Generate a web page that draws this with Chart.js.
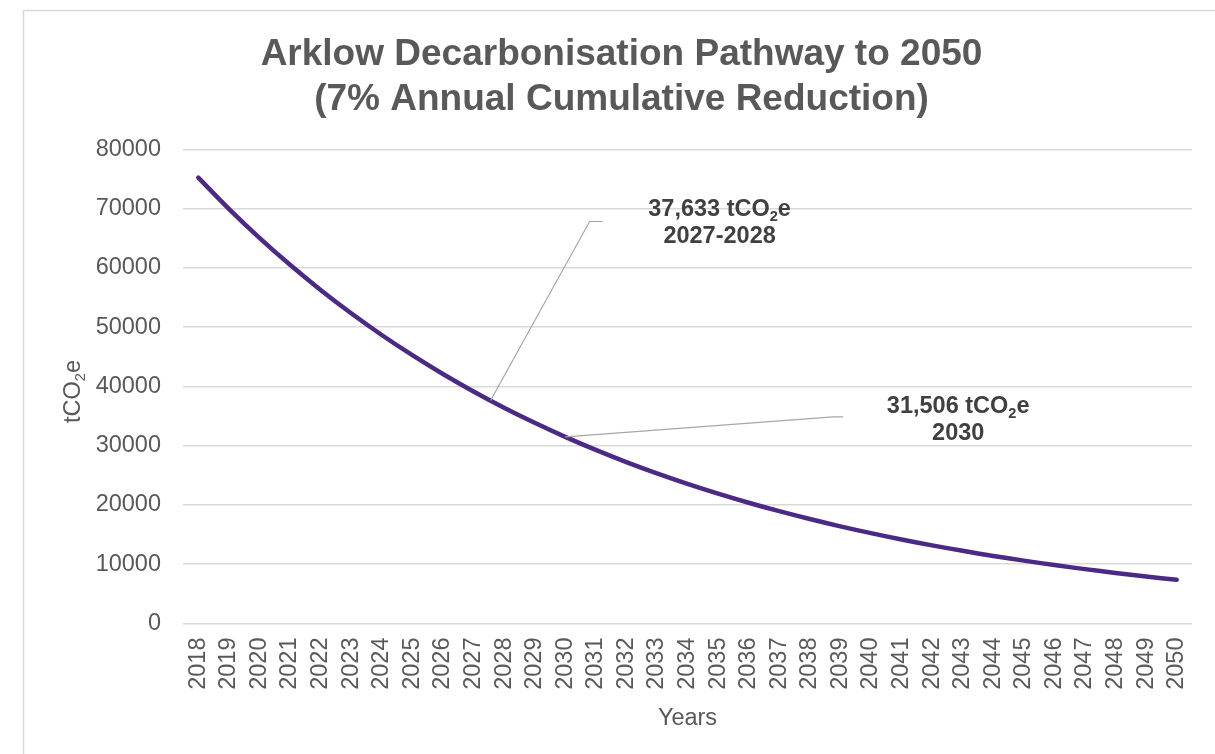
<!DOCTYPE html>
<html>
<head>
<meta charset="utf-8">
<title>Arklow Decarbonisation Pathway to 2050</title>
<script src="https://cdn.jsdelivr.net/npm/chart.js@4.4.1/dist/chart.umd.min.js"></script>
<style>
  html, body { margin: 0; padding: 0; background: #ffffff; }
  #wrap { width: 1215px; height: 754px; }
</style>
</head>
<body>
<div id="wrap"><canvas id="chart" width="1215" height="754"></canvas></div>
<script>
// Emissions pathway, 7% cumulative reduction each year (tCO2e)
const years = ['2018', '2019', '2020', '2021', '2022', '2023', '2024', '2025', '2026', '2027', '2028',
  '2029', '2030', '2031', '2032', '2033', '2034', '2035', '2036', '2037', '2038', '2039', '2040',
  '2041', '2042', '2043', '2044', '2045', '2046', '2047', '2048', '2049', '2050'];
const emissions = [75263, 69995, 65095, 60538, 56301, 52360, 48695, 45286, 42116, 39168, 36426,
  33876, 31506, 29301, 27250, 25342, 23568, 21918, 20384, 18957, 17630, 16396, 15248,
  14181, 13188, 12265, 11407, 10608, 9865, 9175, 8533, 7935, 7380];
const yTicks = [0, 10000, 20000, 30000, 40000, 50000, 60000, 70000, 80000];

// Callouts: stated value and the period it refers to
const calloutValues = [37633, 31506];
const calloutPeriods = ['2027-2028', '2030'];

const titleLines = ['Arklow Decarbonisation Pathway to 2050', '(7% Annual Cumulative Reduction)'];
const xTitle = 'Years';

const FONT = '"Liberation Sans", Arial, Helvetica, sans-serif';
const GREY = '#595959';

// Leader-line and text placement for each callout, relative to its anchor on the curve
const calloutLayout = [
  { elbow: [99, -179], end: [112, -179], text: [229, -185], gap: 27.6 },
  { elbow: [268, -20], end: [278, -20], text: [393, -24], gap: 27 }
];

// Fractional category index where the series passes through a value
function indexForValue(v) {
  for (let i = 0; i < emissions.length - 1; i++) {
    const a = emissions[i], b = emissions[i + 1];
    if (a >= v && v >= b) return i + (a - v) / (a - b);
  }
  return 0;
}

// Draws text made of normal and subscript runs, centred on cx
function drawRuns(ctx, runs, cx, baseline, size, weight, color) {
  const subSize = size * 0.62;
  const fontFor = r => `${weight} ${r.sub ? subSize : size}px ${FONT}`;
  let total = 0;
  runs.forEach(r => { ctx.font = fontFor(r); total += ctx.measureText(r.t).width; });
  let x = cx - total / 2;
  ctx.fillStyle = color;
  ctx.textAlign = 'left';
  ctx.textBaseline = 'alphabetic';
  runs.forEach(r => {
    ctx.font = fontFor(r);
    ctx.fillText(r.t, x, baseline + (r.sub ? size * 0.22 : 0));
    x += ctx.measureText(r.t).width;
  });
}

const decorations = {
  id: 'decorations',
  beforeDraw(chart) {
    const ctx = chart.ctx;
    ctx.save();
    ctx.fillStyle = '#ffffff';
    ctx.fillRect(0, 0, chart.width, chart.height);
    ctx.strokeStyle = '#d9d9d9';
    ctx.lineWidth = 1.5;
    ctx.strokeRect(23.5, 10.5, chart.width + 40, chart.height + 40);
    ctx.restore();
  },
  afterDatasetsDraw(chart) {
    const ctx = chart.ctx;
    const xs = chart.scales.x, ys = chart.scales.y;
    const area = chart.chartArea;
    ctx.save();

    // Title
    ctx.fillStyle = GREY;
    ctx.textAlign = 'center';
    ctx.textBaseline = 'alphabetic';
    ctx.font = `bold 37px ${FONT}`;
    ctx.fillText(titleLines[0], 621.5, 65);
    ctx.fillText(titleLines[1], 621.5, 110);

    // Axis titles
    ctx.font = `23.5px ${FONT}`;
    ctx.fillText(xTitle, (area.left + area.right) / 2, 725);
    ctx.save();
    ctx.translate(79.5, (area.top + area.bottom) / 2 + 5);
    ctx.rotate(-Math.PI / 2);
    drawRuns(ctx, [{ t: 'tCO' }, { t: '2', sub: true }, { t: 'e' }], 0, 0, 23.5, 'normal', GREY);
    ctx.restore();

    // Callouts with leader lines
    calloutValues.forEach((v, k) => {
      const L = calloutLayout[k];
      const ax = xs.getPixelForValue(indexForValue(v));
      const ay = ys.getPixelForValue(v);
      ctx.strokeStyle = '#a6a6a6';
      ctx.lineWidth = 1.2;
      ctx.beginPath();
      ctx.moveTo(ax, ay);
      ctx.lineTo(ax + L.elbow[0], ay + L.elbow[1]);
      ctx.lineTo(ax + L.end[0], ay + L.end[1]);
      ctx.stroke();
      const tx = ax + L.text[0], ty = ay + L.text[1];
      drawRuns(ctx, [{ t: v.toLocaleString('en-US') + ' tCO' }, { t: '2', sub: true }, { t: 'e' }],
        tx, ty, 23.5, 'bold', '#404040');
      drawRuns(ctx, [{ t: calloutPeriods[k] }], tx, ty + L.gap, 23.5, 'bold', '#404040');
    });
    ctx.restore();
  }
};

new Chart(document.getElementById('chart'), {
  type: 'line',
  data: {
    labels: years,
    datasets: [{
      label: 'tCO2e',
      data: emissions,
      borderColor: '#4b2a86',
      borderWidth: 4.5,
      borderCapStyle: 'round',
      borderJoinStyle: 'round',
      pointRadius: 0,
      pointHoverRadius: 0,
      tension: 0.4,
      fill: false
    }]
  },
  options: {
    responsive: false,
    animation: false,
    events: [],
    layout: { padding: { left: 0, right: 23, top: 149.5, bottom: 0 } },
    plugins: {
      legend: { display: false },
      title: { display: false },
      tooltip: { enabled: false }
    },
    scales: {
      x: {
        type: 'category',
        offset: true,
        grid: { display: false, drawTicks: false },
        border: { display: false },
        ticks: {
          autoSkip: false,
          minRotation: 90,
          maxRotation: 90,
          padding: 14,
          color: GREY,
          font: { family: FONT, size: 23.5 }
        },
        afterFit(scale) {
          scale.height = 754 - 623.5;
          scale.paddingLeft = 0;
          scale.paddingRight = 0;
        }
      },
      y: {
        min: 0,
        max: 80000,
        afterBuildTicks(scale) { scale.ticks = yTicks.map(v => ({ value: v })); },
        grid: { color: '#d9d9d9', lineWidth: 1.6, drawTicks: false },
        border: { display: false },
        ticks: {
          padding: 22,
          color: GREY,
          font: { family: FONT, size: 23.5 },
          callback: v => String(v)
        },
        afterFit(scale) { scale.width = 183; }
      }
    }
  },
  plugins: [decorations]
});
</script>
</body>
</html>
